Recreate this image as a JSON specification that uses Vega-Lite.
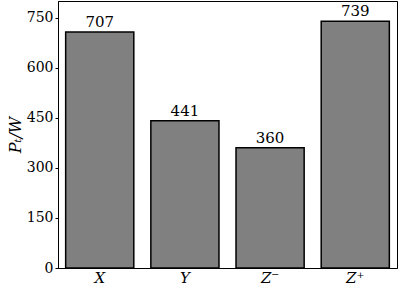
{
  "$schema": "https://vega.github.io/schema/vega-lite/v6.json",
  "width": 339,
  "height": 267,
  "autosize": {"type": "none"},
  "padding": {"left": 58, "top": 1, "right": 3, "bottom": 19},
  "background": "white",
  "config": {
    "view": {"stroke": "black", "strokeWidth": 1},
    "font": "DejaVu Serif",
    "axis": {"labelFont": "DejaVu Serif", "titleFont": "DejaVu Serif"},
    "text": {"font": "DejaVu Serif"}
  },
  "data": {
    "values": [
      {"axis": "X", "power": 707},
      {"axis": "Y", "power": 441},
      {"axis": "Z⁻", "power": 360},
      {"axis": "Z⁺", "power": 739}
    ]
  },
  "encoding": {
    "x": {
      "field": "axis",
      "type": "nominal",
      "sort": null,
      "scale": {"paddingInner": 0.2, "paddingOuter": 0.09},
      "axis": {
        "title": null,
        "labelAngle": 0,
        "ticks": false,
        "labelFontSize": 15,
        "labelFontStyle": "italic",
        "labelColor": "black",
        "labelPadding": 2,
        "domainColor": "black"
      }
    },
    "y": {
      "field": "power",
      "type": "quantitative",
      "scale": {"domain": [0, 800], "nice": false},
      "axis": {
        "title": "Pₜ/W",
        "titleFontSize": 16,
        "titleFontStyle": "italic",
        "titleFontWeight": "normal",
        "titleColor": "black",
        "titlePadding": 3,
        "values": [0, 150, 300, 450, 600, 750],
        "grid": false,
        "tickSize": 3,
        "tickColor": "black",
        "labelFontSize": 14,
        "labelColor": "black",
        "labelPadding": 2,
        "domainColor": "black"
      }
    }
  },
  "layer": [
    {
      "mark": {"type": "bar", "fill": "#808080", "stroke": "black", "strokeWidth": 1.5}
    },
    {
      "mark": {"type": "text", "baseline": "bottom", "dy": -2, "fontSize": 15, "color": "black"},
      "encoding": {"text": {"field": "power", "type": "quantitative"}}
    }
  ]
}
